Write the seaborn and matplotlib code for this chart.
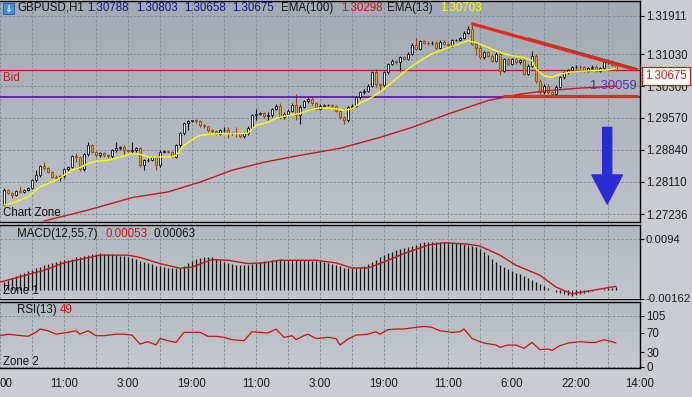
import numpy as np
import matplotlib
matplotlib.use("Agg")
import matplotlib.pyplot as plt
import seaborn as sns
from matplotlib.colors import LinearSegmentedColormap
from matplotlib.patches import Rectangle

# ---------------- data ----------------
first_open = 1.27574
closes = [
    1.27916, 1.27848, 1.27802, 1.27893, 1.27882, 1.27916, 1.27962, 1.28144, 1.28258, 1.28463,
    1.28418, 1.28338, 1.28224, 1.28190, 1.28235, 1.28395, 1.28452, 1.28691, 1.28669, 1.28395,
    1.28737, 1.28942, 1.28794, 1.28714, 1.28760, 1.28714, 1.28691, 1.28828, 1.28874, 1.28908,
    1.28828, 1.28817, 1.28828, 1.28874, 1.28486, 1.28600, 1.28612, 1.28669, 1.28486, 1.28794,
    1.28817, 1.28794, 1.28680, 1.28942, 1.29216, 1.29451, 1.29496, 1.29512, 1.29489, 1.29398,
    1.29375, 1.29284, 1.29261, 1.29209, 1.29284, 1.29300, 1.29216, 1.29220, 1.29216, 1.29147,
    1.29216, 1.29346, 1.29626, 1.29665, 1.29679, 1.29610, 1.29626, 1.29779, 1.29854, 1.29587,
    1.29665, 1.29740, 1.29877, 1.29626, 1.29831, 1.29952, 1.30007, 1.29907, 1.29779, 1.29854,
    1.29863, 1.29870, 1.29854, 1.29740, 1.29587, 1.29512, 1.29815, 1.29854, 1.30043, 1.30157,
    1.30196, 1.30310, 1.30613, 1.30349, 1.30333, 1.30613, 1.30805, 1.30880, 1.30841, 1.30955,
    1.30919, 1.31033, 1.31245, 1.31154, 1.31336, 1.31297, 1.31275, 1.31297, 1.31183, 1.31320,
    1.31261, 1.31234, 1.31352, 1.31359, 1.31398, 1.31525, 1.31603, 1.31261, 1.31183, 1.30955,
    1.31069, 1.30994, 1.30880, 1.31033, 1.30652, 1.30919, 1.30805, 1.30919, 1.30841, 1.30896,
    1.30577, 1.30766, 1.30994, 1.30424, 1.30157, 1.30310, 1.30157, 1.30121, 1.30287, 1.30499,
    1.30613, 1.30668, 1.30727, 1.30743, 1.30727, 1.30652, 1.30714, 1.30743, 1.30652, 1.30714,
    1.30841, 1.30857, 1.30788, 1.30675,
]
# wick lengths beyond the body, in pips
wick_up = [
    4, 2, 3, 2, 11, 3, 2, 3, 11, 4,
    10, 3, 2, 3, 3, 3, 2, 4, 8, 3,
    3, 7, 3, 2, 3, 2, 3, 4, 14, 3,
    5, 3, 19, 3, 3, 2, 3, 3, 2, 4,
    3, 3, 2, 4, 3, 3, 3, 2, 4, 3,
    3, 2, 3, 3, 4, 6, 7, 3, 14, 3,
    3, 3, 4, 10, 3, 3, 7, 3, 3, 5,
    3, 3, 4, 25, 3, 3, 3, 4, 3, 3,
    3, 3, 3, 2, 3, 3, 3, 3, 3, 3,
    3, 3, 4, 8, 3, 3, 3, 3, 2, 3,
    3, 4, 3, 15, 3, 3, 3, 3, 3, 3,
    3, 3, 3, 3, 3, 3, 7, 11, 4, 3,
    3, 3, 3, 4, 3, 3, 3, 3, 3, 3,
    3, 3, 12, 4, 3, 3, 3, 3, 3, 3,
    3, 3, 3, 3, 3, 3, 3, 3, 3, 3,
    3, 3, 3, 2,
]
wick_dn = [
    3, 3, 7, 3, 3, 3, 3, 3, 3, 3,
    4, 3, 3, 3, 7, 3, 3, 3, 10, 3,
    3, 3, 3, 3, 3, 3, 3, 3, 3, 3,
    11, 3, 4, 3, 3, 10, 3, 3, 11, 3,
    3, 3, 3, 3, 3, 3, 15, 3, 3, 3,
    3, 3, 3, 3, 3, 3, 11, 3, 8, 3,
    3, 3, 3, 10, 3, 3, 8, 3, 3, 4,
    3, 3, 3, 11, 19, 3, 3, 3, 3, 3,
    3, 3, 3, 3, 3, 9, 3, 3, 3, 3,
    3, 3, 3, 7, 15, 3, 3, 3, 3, 19,
    3, 3, 3, 3, 3, 3, 3, 3, 3, 3,
    3, 3, 3, 3, 3, 3, 3, 3, 18, 3,
    3, 3, 3, 3, 11, 3, 3, 3, 3, 3,
    3, 3, 3, 5, 7, 3, 3, 3, 3, 3,
    3, 3, 3, 3, 3, 3, 3, 3, 3, 3,
    3, 3, 3, 2,
]

ema100_bar = [11, 22, 33, 42, 50, 58, 66, 75, 85, 95, 103, 112, 122, 130, 137, 145, 154]
ema100 = [1.27209, 1.27460, 1.27745, 1.27877, 1.28099, 1.28372, 1.28555, 1.28714, 1.28874,
          1.29125, 1.29353, 1.29660, 1.29968, 1.30116, 1.30196, 1.30253, 1.30298]

ema13_bar = [1, 4, 7, 8, 10, 12, 14, 16, 18, 20, 22, 24, 27, 30, 33, 35, 37, 40, 43, 44, 46,
             48, 50, 52, 55, 59, 62, 64, 67, 69, 72, 75, 77, 80, 84, 86, 88, 90, 93, 96, 99,
             102, 105, 108, 112, 117, 119, 122, 125, 128, 131, 133, 134, 136, 138, 140, 143,
             148, 152, 154]
ema13 = [1.27574, 1.27649, 1.27763, 1.27841, 1.27991, 1.28069, 1.28144, 1.28258, 1.28372,
         1.28434, 1.28525, 1.28577, 1.28600, 1.28675, 1.28753, 1.28737, 1.28675, 1.28675,
         1.28675, 1.28714, 1.28942, 1.29072, 1.29170, 1.29193, 1.29209, 1.29209, 1.29223,
         1.29398, 1.29473, 1.29565, 1.29626, 1.29672, 1.29740, 1.29802, 1.29779, 1.29740,
         1.29779, 1.29907, 1.30043, 1.30235, 1.30463, 1.30691, 1.30880, 1.31040, 1.31177,
         1.31336, 1.31297, 1.31183, 1.31069, 1.30994, 1.30955, 1.30880, 1.30691, 1.30538,
         1.30499, 1.30577, 1.30629, 1.30652, 1.30668, 1.30703]

bid_price = 1.30675
level_price = 1.30059

macd_hist = [
    0.00150, 0.00180, 0.00215, 0.00250, 0.00290, 0.00320, 0.00345, 0.00370, 0.00400, 0.00430,
    0.00460, 0.00480, 0.00500, 0.00515, 0.00530, 0.00545, 0.00560, 0.00580, 0.00600, 0.00615,
    0.00630, 0.00645, 0.00660, 0.00670, 0.00675, 0.00672, 0.00665, 0.00655, 0.00645, 0.00635,
    0.00625, 0.00610, 0.00590, 0.00565, 0.00540, 0.00515, 0.00490, 0.00470, 0.00450, 0.00435,
    0.00420, 0.00405, 0.00395, 0.00395, 0.00410, 0.00440, 0.00490, 0.00535, 0.00570, 0.00595,
    0.00610, 0.00612, 0.00600, 0.00575, 0.00545, 0.00515, 0.00490, 0.00470, 0.00460, 0.00455,
    0.00455, 0.00465, 0.00480, 0.00495, 0.00510, 0.00525, 0.00540, 0.00550, 0.00558, 0.00562,
    0.00560, 0.00555, 0.00550, 0.00548, 0.00548, 0.00548, 0.00545, 0.00542, 0.00538, 0.00533,
    0.00522, 0.00505, 0.00485, 0.00460, 0.00435, 0.00412, 0.00398, 0.00395, 0.00405, 0.00420,
    0.00445, 0.00480, 0.00520, 0.00560, 0.00600, 0.00640, 0.00675, 0.00705, 0.00735, 0.00755,
    0.00770, 0.00790, 0.00815, 0.00840, 0.00862, 0.00880, 0.00890, 0.00895, 0.00895, 0.00892,
    0.00890, 0.00885, 0.00880, 0.00870, 0.00860, 0.00850, 0.00835, 0.00815, 0.00790, 0.00750,
    0.00700, 0.00640, 0.00580, 0.00520, 0.00460, 0.00420, 0.00385, 0.00355, 0.00320, 0.00290,
    0.00260, 0.00225, 0.00190, 0.00150, 0.00110, 0.00070, 0.00030, -0.00010, -0.00040, -0.00065,
    -0.00085, -0.00100, -0.00108, -0.00100, -0.00082, -0.00060, -0.00040, -0.00022, -0.00008, 0.00005,
    0.00018, 0.00030, 0.00042, 0.00053,
]
signal_bar = [0, 11, 16, 25, 32, 35, 40, 45, 48, 53, 57, 62, 66, 70, 79, 84, 88, 92, 96, 101,
              107, 111, 117, 120, 125, 129, 135, 139, 143, 148, 154]
signal = [0.00142, 0.00361, 0.00500, 0.00642, 0.00642, 0.00600, 0.00486, 0.00400, 0.00420,
          0.00560, 0.00548, 0.00486, 0.00500, 0.00548, 0.00548, 0.00498, 0.00405, 0.00405,
          0.00517, 0.00673, 0.00829, 0.00872, 0.00847, 0.00810, 0.00642, 0.00455, 0.00268,
          0.00050, -0.00075, -0.00012, 0.00063]

rsi_bar = [0, 2, 4, 7, 9, 10, 12, 14, 17, 19, 20, 22, 24, 26, 29, 31, 33, 35, 37, 39, 40, 42,
           44, 46, 50, 52, 54, 56, 58, 61, 63, 65, 67, 69, 71, 73, 74, 76, 77, 79, 82, 84, 85,
           87, 89, 92, 94, 95, 97, 99, 101, 104, 106, 108, 110, 113, 115, 116, 118, 120, 121,
           124, 125, 127, 129, 131, 133, 135, 137, 138, 140, 142, 145, 147, 149, 151, 153, 154]
rsi = [63.8, 67, 65, 62.5, 70.7, 77.6, 74, 67, 70.7, 74, 67, 74, 63.8, 63.8, 67, 67, 65, 46.7,
       51.5, 44.6, 58, 53.5, 50, 70.7, 70.7, 62.5, 62.5, 60.4, 55.6, 53.5, 72, 70.7, 69.3, 77.6,
       60.4, 63.8, 55.6, 63.8, 67, 58, 60.4, 58, 44.6, 57, 65, 67, 72, 67, 76.2, 77.6, 77.6, 81,
       83, 81, 74, 70.7, 72, 77.6, 58, 51.5, 48.7, 44.6, 39.8, 44.6, 44.6, 37.7, 50, 35, 36.4,
       33.6, 43.2, 48.7, 51.5, 50, 50, 55.6, 51.5, 48.7]

# drawn objects (bar index, price)
trend_hi_bar = [117.8, 159.2]
trend_hi = [1.31731, 1.30668]
trend_green_bar = [132.0, 159.6]
trend_green = [1.31400, 1.30690]
trend_lo_bar = [125.8, 159.4]
trend_lo = [1.30065, 1.30065]
arrow_bar = 151.8
arrow_top = 1.29353
arrow_tip = 1.27597

price_ticks = [1.31911, 1.31030, 1.30300, 1.29570, 1.28840, 1.28110, 1.27362]
price_labels = ['1.31911', '1.31030', '1.30300', '1.29570', '1.28840', '1.28110', '1.27236']
macd_ticks = [0.0094, -0.00162]
macd_labels = ['0.0094', '-0.00162']
rsi_ticks = [105, 70, 30, 0]
time_pos = [0, 16, 32, 48, 64, 80, 96, 112, 128, 144, 160]
time_labels = ['00', '11:00', '3:00', '19:00', '11:00', '3:00', '19:00', '11:00', '6:00', '22:00', '14:00']

# ---------------- figure ----------------
sns.set_style("white")
plt.rcParams['font.family'] = ['Liberation Sans', 'DejaVu Sans']
FS = 8.3
W, H = 692, 397

fig = plt.figure(figsize=(W / 100, H / 100), dpi=100, facecolor='#c9cdd2')


def box(top, bottom, right=640):
    return [0, 1 - bottom / H, right / W, (bottom - top) / H]


ax = fig.add_axes(box(1, 222))
ax_m = fig.add_axes(box(225, 298.5))
ax_r = fig.add_axes(box(302, 368))

grid_kw = dict(color='#7c8896', linestyle=(0, (3, 2)), linewidth=0.6)


def shade(a, top, bottom):
    cmap = LinearSegmentedColormap.from_list('bg', [bottom, top])
    a.imshow(np.linspace(0, 1, 64).reshape(-1, 1), cmap=cmap, origin='lower', aspect='auto',
             extent=[0, 1, 0, 1], transform=a.transAxes, zorder=-5)


for a, top, bot in [(ax, '#a2aab5', '#bcc1c8'), (ax_m, '#b1b7bf', '#c1c5cb'), (ax_r, '#b3b9c1', '#c5c9ce')]:
    shade(a, top, bot)
    a.set_axisbelow(True)
    a.set_xticks(time_pos)
    a.set_xticks(range(8, 160, 16), minor=True)
    a.grid(True, which='both', axis='x', **grid_kw)
    a.grid(True, which='major', axis='y', **grid_kw)
    a.yaxis.tick_right()
    a.tick_params(axis='y', which='both', right=True, left=False, length=3, width=0.8,
                  color='black', labelsize=FS, labelcolor='#1a1a1a', pad=1.5)
    a.tick_params(axis='x', which='both', length=0, labelbottom=False)
    for side in ['top', 'bottom', 'right']:
        a.spines[side].set_color('black')
        a.spines[side].set_linewidth(1.0)
    a.spines['left'].set_visible(False)

# ---- candles ----
bars = np.arange(1, len(closes) + 1)
c = np.array(closes)
o = np.concatenate([[first_open], c[:-1]])
pip = 0.0001
hi = np.maximum(o, c) + np.array(wick_up) * pip
lo = np.minimum(o, c) - np.array(wick_dn) * pip
up = c >= o
ax.vlines(bars, lo, hi, colors=np.where(up, '#111111', '#8a4a12'), linewidth=0.8, zorder=2)
ax.bar(bars, np.maximum(np.abs(c - o), 0.00004), bottom=np.minimum(o, c), width=0.62,
       color=np.where(up, '#ffffff', '#e0a02c'), edgecolor=np.where(up, '#111111', '#8a4a12'),
       linewidth=0.6, zorder=3)

sns.lineplot(x=ema100_bar, y=ema100, ax=ax, color='#c41a1a', linewidth=1.0, zorder=4)
sns.lineplot(x=ema13_bar, y=ema13, ax=ax, color='#ffff00', linewidth=1.0, zorder=4)

ax.axhline(bid_price, color='#b02020', linewidth=0.9, zorder=2)
ax.axhline(level_price, color='#5a0fa8', linewidth=1.2, zorder=2)

# trendlines
ax.plot(trend_green_bar, trend_green, color='#2f6b2a', linewidth=1.0, zorder=5, solid_capstyle='butt')
ax.plot(trend_hi_bar, trend_hi, color='#e8261e', linewidth=2.3, zorder=6, solid_capstyle='butt')
ax.plot(trend_lo_bar, trend_lo, color='#e8261e', linewidth=2.3, zorder=6, solid_capstyle='butt')

ax.annotate('', xy=(arrow_bar, arrow_tip), xytext=(arrow_bar, arrow_top),
            arrowprops=dict(arrowstyle='simple,head_length=21,head_width=22,tail_width=6.5',
                            mutation_scale=1, color='#2b2bd4', shrinkA=0, shrinkB=0), zorder=7)

ax.set_xlim(0, 160)
ax.set_ylim(1.27187, 1.32248)
ax.set_yticks(price_ticks)
ax.set_yticklabels(price_labels)

ax.annotate('Bid', xy=(0.004, bid_price), xycoords=ax.get_yaxis_transform(), xytext=(0, -2),
            textcoords='offset points', va='top', ha='left', fontsize=FS, color='#b02020')
ax.annotate('1.30059', xy=(0.995, level_price), xycoords=ax.get_yaxis_transform(), xytext=(0, 3),
            textcoords='offset points', va='bottom', ha='right', fontsize=FS + 1, color='#5a2da0')
ax.text(1.008, bid_price, '1.30675', transform=ax.get_yaxis_transform(), va='top', ha='left',
        fontsize=FS, color='#d01818', zorder=10, clip_on=False,
        bbox=dict(boxstyle='square,pad=0.25', fc='white', ec='#d01818', lw=0.9))
ax.text(0.005, 0.012, 'Chart Zone', transform=ax.transAxes, va='bottom', ha='left',
        fontsize=FS, color='#111111')

# header
head = [('GBPUSD,H1', 17, '#111111'), ('1.30788', 87, '#14148a'), ('1.30803', 136, '#14148a'),
        ('1.30658', 184, '#14148a'), ('1.30675', 232, '#14148a'), ('EMA(100)', 281, '#111111'),
        ('1.30298', 341, '#c81414'), ('EMA(13)', 387, '#111111'), ('1.30703', 440, '#ffff00')]
for txt, px, col in head:
    fig.text(px / W, 1 - 8 / H, txt, fontsize=FS, color=col, va='center', ha='left')
fig.patches.append(Rectangle((3 / W, 1 - 14 / H), 11 / W, 11 / H, transform=fig.transFigure,
                             fc='#3d8fe0', ec='#1c5fa8', lw=0.6))
fig.text(8.5 / W, 1 - 8.5 / H, '↓', fontsize=7, color='white', ha='center', va='center',
         fontweight='bold', family='DejaVu Sans')

# ---- MACD ----
hist_bars = np.arange(1, len(macd_hist) + 1)
ax_m.vlines(hist_bars, 0, macd_hist, colors='#111111', linewidth=0.9, zorder=2)
sns.lineplot(x=signal_bar, y=signal, ax=ax_m, color='#c81414', linewidth=1.0, zorder=3)
ax_m.set_xlim(0, 160)
ax_m.set_ylim(-0.00162, 0.01202)
ax_m.set_yticks(macd_ticks)
ax_m.set_yticklabels(macd_labels)
ax_m.tick_params(axis='y', labelsize=FS - 0.2, pad=1)
ax_m.set_xticks(time_pos)
ax_m.text(0.004, 0.06, 'Zone 1', transform=ax_m.transAxes, fontsize=FS, color='#111111')

# ---- RSI ----
for lvl in [70, 30]:
    ax_r.axhline(lvl, color='#c9cdd2', linewidth=0.6, zorder=1)
sns.lineplot(x=rsi_bar, y=rsi, ax=ax_r, color='#c81414', linewidth=0.9, zorder=3)
ax_r.set_xlim(0, 160)
ax_r.set_ylim(-2.7, 133.2)
ax_r.set_yticks(rsi_ticks)
ax_r.set_yticklabels([str(t) for t in rsi_ticks])
ax_r.set_xticks(time_pos)
ax_r.set_xticklabels(time_labels)
ax_r.tick_params(axis='x', labelbottom=True, labelsize=FS, labelcolor='#1a1a1a', pad=7)
ax_r.get_xticklabels()[0].set_ha('left')
ax_r.text(0.004, 0.05, 'Zone 2', transform=ax_r.transAxes, fontsize=FS, color='#111111')

for a in [ax, ax_m, ax_r]:
    a.set_xlabel('')
    a.set_ylabel('')

# sub-window headers
for txt, px, py, col in [('MACD(12,55,7)', 17, 234, '#111111'), ('0.00053', 105, 234, '#c81414'),
                         ('0.00063', 153, 234, '#111111'), ('RSI(13)', 17, 310, '#111111'),
                         ('49', 60, 310, '#c81414')]:
    fig.text(px / W, 1 - py / H, txt, fontsize=FS, color=col, va='center', ha='left')

fig.savefig('out.png', dpi=100, facecolor=fig.get_facecolor())
